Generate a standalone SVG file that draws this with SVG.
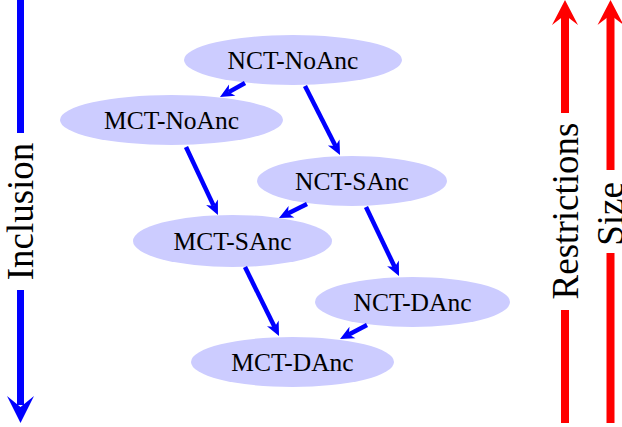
<svg xmlns="http://www.w3.org/2000/svg" width="622" height="427" viewBox="0 0 622 427">
<style>
.node ellipse{fill:#ccccff;stroke:none}
.node text{font-family:"Liberation Serif","Times New Roman",serif;font-size:25.5px;fill:#000;text-anchor:middle}
.edge{stroke:#0000ff;stroke-width:4.5;fill:none;marker-end:url(#ah)}
.ax{font-family:"Liberation Serif","Times New Roman",serif;font-size:37px;fill:#000;text-anchor:middle}
</style>
<defs>
<marker id="ah" markerUnits="userSpaceOnUse" markerWidth="20" markerHeight="20" viewBox="-2 -10 20 20" refX="4" refY="0" orient="auto">
<path d="M14,0 L0,-6.5 L4,0 L0,6.5 Z" fill="#0000ff"/>
</marker>
</defs>
<g id="axes">
<g id="inclusion">
<line x1="20.5" y1="0" x2="20.5" y2="133" stroke="#0000ff" stroke-width="7"/>
<line x1="20.5" y1="290" x2="20.5" y2="405" stroke="#0000ff" stroke-width="7"/>
<polygon points="20.5,423 7,396 20.5,407 34,396" fill="#0000ff"/>
<text class="ax" transform="translate(33,211.5) rotate(-90)">Inclusion</text>
</g>
<g id="restrictions">
<line x1="565" y1="14" x2="565" y2="113" stroke="#ff0000" stroke-width="8"/>
<line x1="565" y1="310" x2="565" y2="423" stroke="#ff0000" stroke-width="8"/>
<polygon points="565,0 552,25 565,15 578,25" fill="#ff0000"/>
<text class="ax" transform="translate(578,211) rotate(-90)">Restrictions</text>
</g>
<g id="size">
<line x1="610.5" y1="14" x2="610.5" y2="170" stroke="#ff0000" stroke-width="8"/>
<line x1="610.5" y1="253" x2="610.5" y2="423" stroke="#ff0000" stroke-width="8"/>
<polygon points="610.5,0 597.5,25 610.5,15 623.5,25" fill="#ff0000"/>
<text class="ax" transform="translate(623,214) rotate(-90)">Size</text>
</g>
</g>
<g id="nct-noanc" class="node"><ellipse cx="293" cy="60" rx="109" ry="25"/><text x="293" y="69">NCT-NoAnc</text></g>
<g id="mct-noanc" class="node"><ellipse cx="171.5" cy="120" rx="111.5" ry="25"/><text x="171.5" y="129">MCT-NoAnc</text></g>
<g id="nct-sanc" class="node"><ellipse cx="352" cy="181" rx="95" ry="25"/><text x="352" y="190">NCT-SAnc</text></g>
<g id="mct-sanc" class="node"><ellipse cx="232.5" cy="241" rx="99.5" ry="26"/><text x="232.5" y="250">MCT-SAnc</text></g>
<g id="nct-danc" class="node"><ellipse cx="412.5" cy="302" rx="97.5" ry="25"/><text x="412.5" y="311">NCT-DAnc</text></g>
<g id="mct-danc" class="node"><ellipse cx="292.5" cy="362" rx="101.5" ry="25"/><text x="292.5" y="371">MCT-DAnc</text></g>
<g id="connectors">
<line class="edge" x1="245" y1="83" x2="228.7" y2="92.1"/>
<line class="edge" x1="305" y1="86" x2="335.5" y2="146.1"/>
<line class="edge" x1="186" y1="147" x2="213.7" y2="205.9"/>
<line class="edge" x1="307" y1="204" x2="287.9" y2="213.5"/>
<line class="edge" x1="366" y1="207" x2="394.7" y2="267"/>
<line class="edge" x1="245" y1="267" x2="274.6" y2="327"/>
<line class="edge" x1="367" y1="325" x2="348.9" y2="334.4"/>
</g>
</svg>
